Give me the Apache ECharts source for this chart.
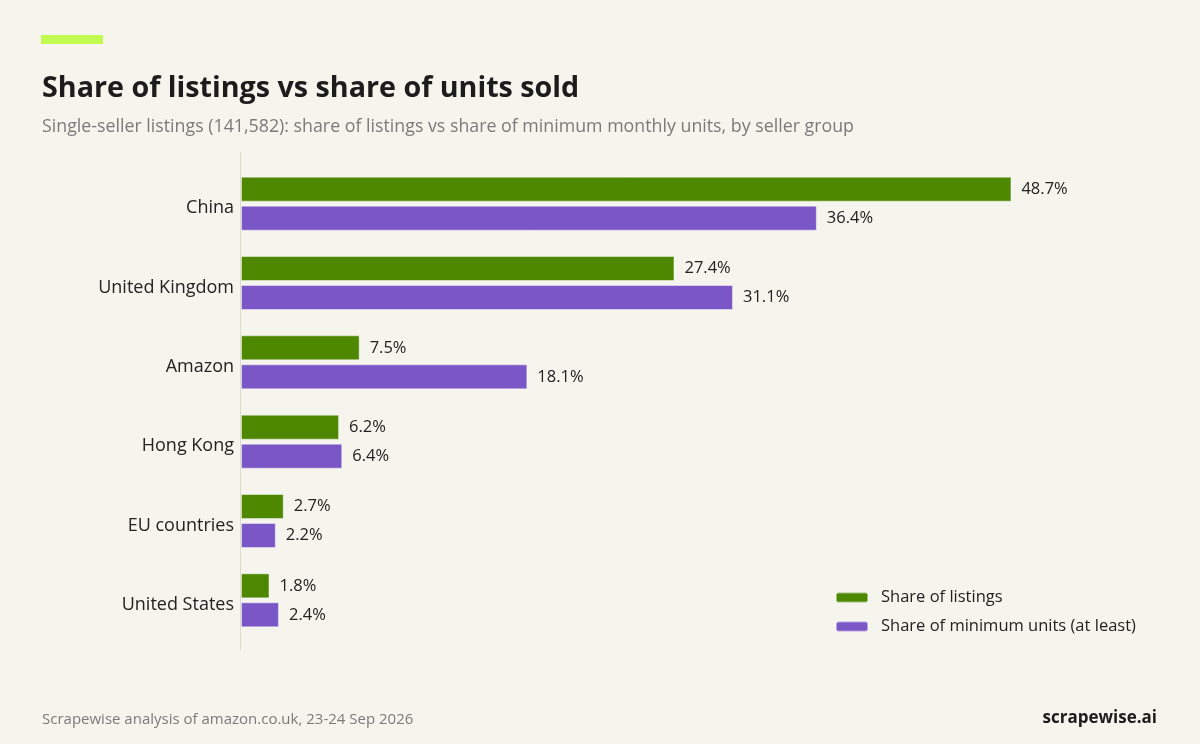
<!DOCTYPE html>
<html><head><meta charset="utf-8">
<script src="https://cdn.jsdelivr.net/npm/echarts@6/dist/echarts.min.js"></script>
<style>html,body{margin:0;padding:0;background:#f5f4ed;}#c{width:1200px;height:744px;}</style>
</head><body><div id="c"></div>
<script>
const categories = ["China", "United Kingdom", "Amazon", "Hong Kong", "EU countries", "United States"];
const listingsShare = [48.7, 27.4, 7.5, 6.2, 2.7, 1.8];
const unitsShare = [36.4, 31.1, 18.1, 6.4, 2.2, 2.4];
const seriesNames = ["Share of listings", "Share of minimum units (at least)"];

const FONT = "'Open Sans', 'Noto Sans', sans-serif";
const chart = echarts.init(document.getElementById('c'));
const lbl = {show:true, position:'right', distance:10, formatter: p => p.value.toFixed(1) + '%', color:'#222', fontSize:16.5, fontFamily:FONT};
chart.setOption({
  backgroundColor:'#f5f4ed',
  animation:false,
  title:[
    {text:'Share of listings vs share of units sold', left:37, top:69, textStyle:{fontFamily:"'Open Sans', sans-serif", fontWeight:700, fontSize:28.7, color:'#1c1c1c'}},
    {text:'Single-seller listings (141,582): share of listings vs share of minimum monthly units, by seller group', left:37, top:113, textStyle:{fontFamily:FONT, fontWeight:400, fontSize:17.8, color:'#7a7a7a'}},
    {text:'Scrapewise analysis of amazon.co.uk, 23-24 Sep 2026', left:37, top:707, textStyle:{fontFamily:FONT, fontWeight:400, fontSize:15, color:'#7a7a7a'}},
    {text:'scrapewise.ai', right:38, top:705, textStyle:{fontFamily:FONT, fontWeight:700, fontSize:17, color:'#1c1c1c'}}
  ],
  graphic:[
    {type:'rect', shape:{x:41, y:35, width:62, height:9}, style:{fill:'#c2fb50'}},
    {type:'line', shape:{x1:240.5, y1:152, x2:240.5, y2:650}, style:{stroke:'#dcdcc8', lineWidth:1}}
  ],
  legend:{
    orient:'vertical', left:830, top:584, itemWidth:32, itemHeight:10, itemGap:12,
    textStyle:{fontFamily:FONT, fontSize:16.5, color:'#222', padding:[0,0,0,8]},
    data:seriesNames
  },
  grid:{left:241, right:168, top:164, bottom:104, containLabel:false},
  xAxis:{type:'value', min:0, max:50, show:false},
  yAxis:{type:'category', data:categories, inverse:true,
    axisLine:{show:false}, axisTick:{show:false},
    axisLabel:{margin:7, formatter: v => '{a|' + v + '}',
      rich:{a:{color:'#222', fontSize:18, fontFamily:FONT, padding:[9,0,0,0]}}}},
  series:[
    {name:seriesNames[0], type:'bar', data:listingsShare, barWidth:25, barGap:'16%',
     itemStyle:{color:'#4e8800', borderColor:'rgba(255,255,255,0.45)', borderWidth:1}, label:lbl},
    {name:seriesNames[1], type:'bar', data:unitsShare, barWidth:25,
     itemStyle:{color:'#7a56c7', borderColor:'rgba(255,255,255,0.45)', borderWidth:1}, label:lbl}
  ]
});
</script></body></html>
